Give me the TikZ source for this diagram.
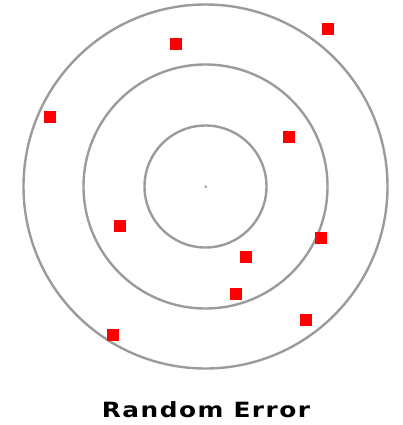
\documentclass[tikz,border=0pt]{standalone}
\usepackage{fontspec}
\setmainfont{DejaVu Sans}
\begin{document}
\begin{tikzpicture}[x=1pt,y=-1pt,
  ring/.style={draw={rgb,255:red,155;green,155;blue,155},line width=2.4pt},
  hit/.style={fill={rgb,255:red,255;green,0;blue,0},minimum size=12pt,inner sep=0pt,draw=none,rectangle}]
\useasboundingbox (0,0) rectangle (403,425);
\coordinate (c) at (205.5,186.5);
\draw[ring] (c) circle[radius=182];
\draw[ring] (c) circle[radius=122];
\draw[ring] (c) circle[radius=61];
\fill[gray] (c) ++(-0.7,-1.5) -- ++(2.5,2) -- ++(-1.8,1) -- cycle;
\node[hit] (h1) at (328,29) {};
\node[hit] (h2) at (176,44) {};
\node[hit] (h3) at (50,117) {};
\node[hit] (h4) at (289,137) {};
\node[hit] (h5) at (120,226) {};
\node[hit] (h6) at (321,238) {};
\node[hit] (h7) at (246,257) {};
\node[hit] (h8) at (236,294) {};
\node[hit] (h9) at (306,320) {};
\node[hit] (h10) at (113,335) {};
\node[anchor=base,inner sep=0pt] (t) at (206,417.3) {\scalebox{1.18}[1]{\fontsize{21pt}{24pt}\selectfont\bfseries\addfontfeatures{LetterSpace=6}Random Error}};
\end{tikzpicture}
\end{document}
